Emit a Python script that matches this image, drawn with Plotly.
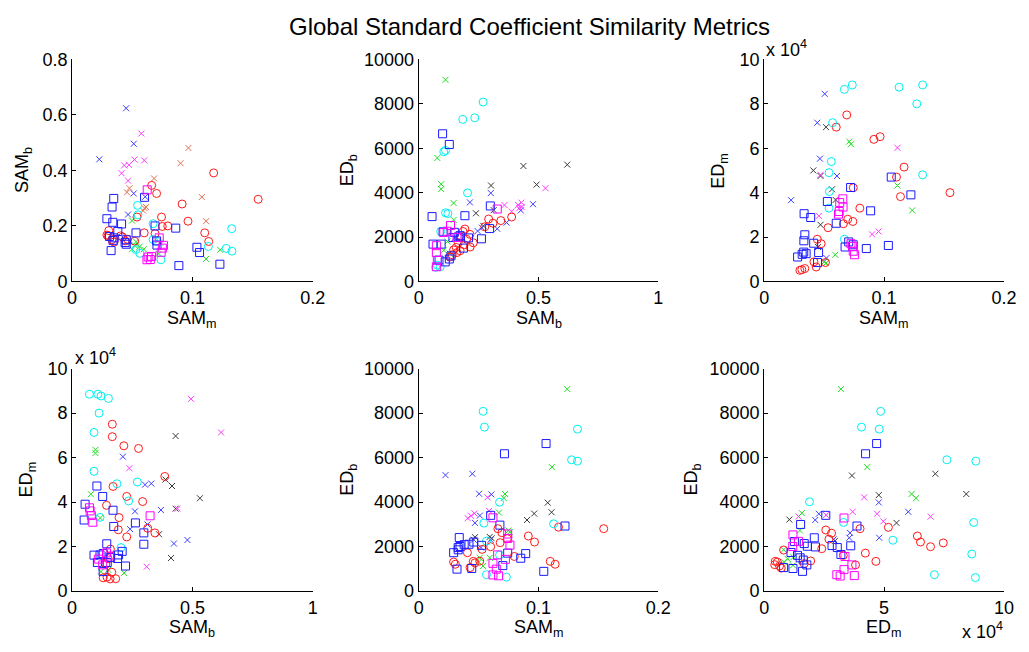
import plotly.graph_objects as go

# ---------------- data ----------------
# Panel 1 : SAM_m (x)  vs  SAM_b (y)
p1_red_circles = [(0.1176,0.391),(0.1546,0.296),(0.0661,0.346),(0.0702,0.317),(0.0914,0.279),(0.0743,0.232),(0.0539,0.232),(0.0963,0.217),(0.0749,0.198),(0.0795,0.200),(0.0599,0.175),(0.1102,0.175),(0.1135,0.144),(0.0305,0.183),(0.0289,0.167),(0.0403,0.164),(0.0419,0.160),(0.0349,0.142),(0.0441,0.146),(0.0300,0.165),(0.0689,0.172),(0.0460,0.152),(0.0520,0.145),(0.0330,0.150)]
p1_cyan_circles = [(0.0544,0.274),(0.0547,0.240),(0.0673,0.208),(0.1326,0.190),(0.128,0.119),(0.1328,0.109),(0.1132,0.126),(0.0563,0.101),(0.0738,0.078),(0.0673,0.151),(0.0700,0.145),(0.0530,0.115)]
p1_blue_squares = [(0.0346,0.299),(0.0332,0.268),(0.0289,0.226),(0.0338,0.213),(0.0411,0.207),(0.0602,0.303),(0.0861,0.192),(0.0689,0.200),(0.0531,0.175),(0.0324,0.111),(0.0349,0.157),(0.0340,0.148),(0.0450,0.134),(0.0450,0.150),(0.0702,0.146),(0.0705,0.131),(0.1037,0.123),(0.1059,0.104),(0.0887,0.057),(0.1228,0.062),(0.0380,0.180),(0.0310,0.162),(0.0440,0.140)]
p1_magenta_squares = [(0.0624,0.330),(0.0724,0.157),(0.0759,0.130),(0.0750,0.120),(0.0632,0.088),(0.0650,0.079),(0.0622,0.078),(0.0660,0.090),(0.0740,0.105)]
p1_green_x = [(0.0498,0.219),(0.0531,0.143),(0.052,0.130),(0.0498,0.116),(0.0596,0.116),(0.0718,0.099),(0.123,0.114),(0.1113,0.081),(0.073,0.140),(0.056,0.125)]
p1_dark_x = [(0.0966,0.481),(0.0901,0.426),(0.0681,0.371),(0.0477,0.336),(0.0456,0.321),(0.0602,0.264),(0.0615,0.268),(0.1078,0.304),(0.1113,0.217),(0.059,0.255)]
p1_blue_x = [(0.0449,0.624),(0.0512,0.496),(0.0226,0.440),(0.0512,0.317),(0.0465,0.241),(0.0607,0.305)]
p1_magenta_x = [(0.0575,0.533),(0.0433,0.418),(0.0473,0.420),(0.0518,0.439),(0.0599,0.436),(0.0411,0.390),(0.0465,0.363)]

# Panel 2 : SAM_b (x)  vs  ED_b (y)
p2_red_circles = [(0.388,2900),(0.343,2740),(0.292,2810),(0.310,2620),(0.276,2460),(0.193,2360),(0.214,2120),(0.228,1740),(0.176,2000),(0.157,1530),(0.146,1420),(0.173,1380),(0.160,1300),(0.140,1200),(0.190,1650),(0.200,1900),(0.130,1100),(0.165,1750),(0.215,1550),(0.185,2250)]
p2_cyan_circles = [(0.269,8080),(0.234,7370),(0.184,7300),(0.112,5900),(0.105,5840),(0.204,3990),(0.112,3090),(0.122,3060),(0.092,2250),(0.078,730),(0.071,640),(0.090,660)]
p2_blue_squares = [(0.100,6650),(0.128,6170),(0.056,2920),(0.193,2960),(0.299,3400),(0.060,1680),(0.094,1680),(0.102,2230),(0.149,2210),(0.143,1980),(0.173,2060),(0.208,1960),(0.262,1920),(0.187,1500),(0.135,1150),(0.128,1010),(0.111,880),(0.296,2380),(0.085,960),(0.165,2000)]
p2_magenta_squares = [(0.328,3260),(0.133,2520),(0.119,2260),(0.074,1610),(0.074,1300),(0.078,950),(0.074,660),(0.105,2200),(0.160,1980)]
p2_green_x = [(0.112,9080),(0.078,5560),(0.094,4380),(0.094,4160),(0.146,3530),(0.146,2770),(0.105,1400),(0.120,1800),(0.130,1250)]
p2_dark_x = [(0.437,5200),(0.620,5260),(0.492,4360),(0.302,4320),(0.239,3070),(0.313,3210),(0.270,2500)]
p2_blue_x = [(0.301,3980),(0.214,3560),(0.477,3480),(0.426,3200),(0.367,2650),(0.328,2370),(0.264,2420),(0.246,2270),(0.150,1950)]
p2_magenta_x = [(0.529,4200),(0.429,3550),(0.415,3440),(0.388,3150),(0.358,3440),(0.430,3350),(0.420,3300)]

# Panel 3 : SAM_m (x)  vs  ED_m (y)
p3_red_circles = [(0.0689,75000),(0.0601,69500),(0.0915,64000),(0.0967,65200),(0.1167,51500),(0.1104,47000),(0.1137,38200),(0.155,40000),(0.0743,42200),(0.0798,33000),(0.0697,28000),(0.0740,27000),(0.0661,26000),(0.0533,24200),(0.0443,19000),(0.0475,17000),(0.0415,8800),(0.0434,6500),(0.0511,8500),(0.0298,5000),(0.0339,5800),(0.0314,5300)]
p3_cyan_circles = [(0.0669,86500),(0.0735,88500),(0.1126,87500),(0.1322,88500),(0.1273,80000),(0.0571,71500),(0.0560,54000),(0.0541,49000),(0.1322,48000),(0.0544,40500),(0.0541,33000),(0.0669,19000)]
p3_blue_squares = [(0.106,47000),(0.1224,39000),(0.0721,42300),(0.0527,36000),(0.0888,31800),(0.0601,26200),(0.0333,30500),(0.0388,28800),(0.0339,21000),(0.0331,18300),(0.0413,17200),(0.0454,13000),(0.0330,13200),(0.0350,12500),(0.0317,12200),(0.0279,11000),(0.0445,8500),(0.0675,15500),(0.0705,17800),(0.0743,16500),(0.0852,14800),(0.1036,16200)]
p3_magenta_squares = [(0.0656,37200),(0.0658,33500),(0.0626,31500),(0.0620,30300),(0.0738,15800),(0.0724,17000),(0.0743,13600),(0.0754,12000),(0.0630,35500)]
p3_green_x = [(0.0710,63000),(0.0724,61800),(0.1112,43200),(0.1235,32000),(0.0593,12000),(0.0516,8300),(0.0500,8800)]
p3_dark_x = [(0.0516,69500),(0.0410,50000),(0.0470,47500),(0.0566,41500),(0.0596,36700),(0.0470,25500),(0.0450,15500)]
p3_blue_x = [(0.0505,84500),(0.0443,71500),(0.0224,36600),(0.0465,55300),(0.0607,47500),(0.0519,10500)]
p3_magenta_x = [(0.1112,60200),(0.0954,22500),(0.0900,21200),(0.0456,29500),(0.0470,48000)]

# Panel 4 : SAM_b (x)  vs  ED_m (y)
p4_red_circles = [(0.167,75000),(0.167,69400),(0.215,65300),(0.276,64100),(0.385,51500),(0.170,47000),(0.227,42500),(0.143,38500),(0.293,40200),(0.195,33000),(0.192,27500),(0.227,24300),(0.314,28200),(0.344,26100),(0.159,18800),(0.165,8400),(0.129,5900),(0.158,5400),(0.181,5500),(0.145,6200),(0.150,14500),(0.140,12000)]
p4_cyan_circles = [(0.072,88500),(0.107,88500),(0.120,87700),(0.151,86600),(0.112,80000),(0.091,71300),(0.091,53800),(0.186,48200),(0.271,49000),(0.235,40500),(0.116,33100),(0.203,19500)]
p4_blue_squares = [(0.103,47200),(0.127,42500),(0.054,39000),(0.050,31900),(0.170,36300),(0.173,29000),(0.263,30600),(0.298,26100),(0.298,21000),(0.144,21200),(0.091,16100),(0.116,16200),(0.129,16800),(0.193,16200),(0.208,17800),(0.189,14600),(0.105,12800),(0.146,12800),(0.222,11200),(0.129,8700),(0.160,15000)]
p4_magenta_squares = [(0.072,37400),(0.080,33900),(0.086,30900),(0.324,33800),(0.109,14300),(0.143,17100),(0.156,15700),(0.127,11700),(0.075,36000)]
p4_green_x = [(0.097,63500),(0.097,62000),(0.078,43500),(0.117,32800),(0.216,8100),(0.120,8700),(0.150,9500)]
p4_dark_x = [(0.430,69700),(0.415,47200),(0.531,41700),(0.388,50100),(0.361,25500),(0.411,14800),(0.430,37000)]
p4_blue_x = [(0.211,60400),(0.303,47800),(0.329,48300),(0.261,35800),(0.369,36400),(0.241,27800),(0.313,29900),(0.423,21300),(0.479,22900)]
p4_magenta_x = [(0.494,86400),(0.619,71300),(0.238,55200),(0.438,37000),(0.310,10900)]

# Panel 5 : SAM_m (x)  vs  ED_b (y)
p5_red_circles = [(0.1544,2800),(0.1167,2870),(0.0915,2470),(0.0967,2200),(0.0661,2800),(0.0694,2620),(0.0680,2170),(0.0601,1990),(0.0530,1870),(0.0407,1720),(0.0798,1550),(0.1098,1330),(0.1139,1200),(0.0292,1300),(0.0306,1200),(0.0429,1050),(0.0510,1340),(0.0456,1330),(0.0740,2350),(0.0470,1260)]
p5_cyan_circles = [(0.0538,8080),(0.0549,7370),(0.1325,7280),(0.1276,5900),(0.1325,5840),(0.0675,3990),(0.0544,3050),(0.1126,3020),(0.0566,2240),(0.0675,1620),(0.0566,730),(0.0732,620)]
p5_blue_squares = [(0.1063,6630),(0.0716,6170),(0.0601,3400),(0.0678,2960),(0.1221,2920),(0.0339,2400),(0.0292,1720),(0.0330,1950),(0.0345,2000),(0.0380,2080),(0.0420,2100),(0.0460,2200),(0.0330,1850),(0.0525,2050),(0.0743,1700),(0.0893,1680),(0.0852,1470),(0.0702,1140),(0.0443,1010),(0.0320,980),(0.1044,880)]
p5_magenta_squares = [(0.0620,3290),(0.0743,2560),(0.0743,2360),(0.0762,2060),(0.0659,1620),(0.0724,1420),(0.0620,1240),(0.0648,980),(0.0620,720),(0.0667,680)]
p5_green_x = [(0.124,9080),(0.1112,5570),(0.0721,4360),(0.0710,4180),(0.0670,3520),(0.0749,2720),(0.0593,1490),(0.0510,1490),(0.0538,1120),(0.0500,1300),(0.0760,2650)]
p5_dark_x = [(0.1077,3970),(0.1109,3540),(0.0964,3480),(0.0904,3190),(0.0593,2430),(0.0609,2370),(0.0470,2420)]
p5_blue_x = [(0.0224,5210),(0.0448,5270),(0.0505,4370),(0.0607,4340),(0.0511,3390),(0.0470,3060),(0.0460,2300),(0.0600,2300),(0.0520,1950)]
p5_magenta_x = [(0.0574,4210),(0.0410,3270),(0.0437,3380),(0.0465,3490),(0.0588,3600)]

# Panel 6 : ED_m (x)  vs  ED_b (y)
p6_red_circles = [(51800,2860),(40000,2800),(25700,2740),(28100,2600),(27000,2330),(63900,2470),(65200,2200),(69400,1990),(74700,2160),(24000,1900),(42200,1700),(46600,1330),(38100,1170),(19400,1350),(16700,1230),(8100,1840),(4600,1330),(4400,1180),(6400,1120),(7100,1030),(5500,1300),(33000,1600)]
p6_cyan_circles = [(48600,8080),(40600,7370),(48000,7280),(76200,5900),(88300,5840),(18900,4010),(33100,3080),(87400,3080),(53700,2280),(86600,1660),(71000,730),(88100,600)]
p6_blue_squares = [(46900,6630),(42300,6170),(25700,3400),(15200,2990),(38700,2920),(20900,2390),(36100,2030),(12600,2220),(16700,2130),(18000,2010),(21400,1980),(28300,2040),(30500,1950),(32000,1640),(11200,1730),(13900,1600),(15000,1490),(16300,1390),(17800,1170),(8100,1050),(12000,1010),(16000,880)]
p6_magenta_squares = [(12000,2520),(14300,2230),(11900,2000),(33300,3280),(33700,1550),(33300,960),(36600,1170),(30300,730),(31700,670),(37600,690)]
p6_green_x = [(32000,9080),(43000,5570),(61500,4360),(63300,4170),(15700,3500),(14900,2720),(8100,1850),(9800,1440),(12200,1520),(8200,1300),(12000,1150)]
p6_dark_x = [(10500,3210),(36600,5190),(71400,5270),(84300,4360),(47800,4310),(55200,3060),(29500,2250)]
p6_blue_x = [(22800,3470),(21300,3190),(47800,3980),(60100,3560),(35800,2610),(35500,2390),(48000,2390),(29000,2320)]
p6_magenta_x = [(14300,3350),(25800,3410),(36900,3560),(41700,4210),(47100,3470),(49700,3130),(69400,3340)]

# axis ticks
sam_m_ticks = [0, 0.1, 0.2]
sam_m_ticktext = ["0", "0.1", "0.2"]
sam_b_ticks = [0, 0.5, 1]
sam_b_ticktext = ["0", "0.5", "1"]
sam_b_yticks = [0, 0.2, 0.4, 0.6, 0.8]
sam_b_yticktext = ["0", "0.2", "0.4", "0.6", "0.8"]
ed_b_ticks = [0, 2000, 4000, 6000, 8000, 10000]
ed_m_ticks = [0, 2, 4, 6, 8, 10]      # in units of 1e4
ed_m_xticks = [0, 5, 10]
ED_M_SCALE = 1e4

# ---------------- styles ----------------
series_styles = [
    ("dark_x", "x-thin-open", "#3a3a3a", 6),
    ("blue_x", "x-thin-open", "#3c3cff", 6),
    ("magenta_x", "x-thin-open", "#ff3cff", 6),
    ("green_x", "x-thin-open", "#22dd22", 6),
    ("red_circles", "circle-open", "#ff1a1a", 8),
    ("cyan_circles", "circle-open", "#00f0f0", 8),
    ("blue_squares", "square-open", "#1a1aff", 8),
    ("magenta_squares", "square-open", "#ff00ff", 8),
]

panels = [
    dict(name="p1", xs=1.0, ys=1.0, override={"dark_x": "#e07050"}),
    dict(name="p2", xs=1.0, ys=1.0, override={}),
    dict(name="p3", xs=1.0, ys=ED_M_SCALE, override={}),
    dict(name="p4", xs=1.0, ys=ED_M_SCALE, override={}),
    dict(name="p5", xs=1.0, ys=1.0, override={}),
    dict(name="p6", xs=ED_M_SCALE, ys=1.0, override={}),
]

W, H = 1029, 652
def px(x): return x / W
def py(y): return 1 - y / H

col_dom = [(68.3, 313.3), (421.0, 665.0), (772.7, 1016.7)]
row_dom = [(51.0, 280.0), (370.0, 599.3)]

fig = go.Figure()
g = globals()
for i, p in enumerate(panels):
    axn = "" if i == 0 else str(i + 1)
    for key, sym, color, size in series_styles:
        pts = g[p["name"] + "_" + key]
        c = p["override"].get(key, color)
        fig.add_trace(go.Scatter(
            x=[a / p["xs"] for a, b in pts],
            y=[b / p["ys"] for a, b in pts],
            mode="markers",
            marker=dict(symbol=sym, size=size, color=c, line=dict(color=c, width=1)),
            xaxis="x" + axn, yaxis="y" + axn, showlegend=False, cliponaxis=False,
        ))

font = "Liberation Sans, Arial, Helvetica, sans-serif"
axis_common = dict(showline=True, linecolor="black", linewidth=1, ticks="inside",
                   ticklen=4, tickcolor="black", showgrid=False, zeroline=False,
                   tickfont=dict(family=font, size=18, color="black"), mirror=False,
                   fixedrange=True)

xcfg = [
    dict(range=[0, 0.2], tickvals=sam_m_ticks, ticktext=sam_m_ticktext),
    dict(range=[0, 1], tickvals=sam_b_ticks, ticktext=sam_b_ticktext),
    dict(range=[0, 0.2], tickvals=sam_m_ticks, ticktext=sam_m_ticktext),
    dict(range=[0, 1], tickvals=sam_b_ticks, ticktext=sam_b_ticktext),
    dict(range=[0, 0.2], tickvals=sam_m_ticks, ticktext=sam_m_ticktext),
    dict(range=[0, 10], tickvals=ed_m_xticks, ticktext=[str(v) for v in ed_m_xticks]),
]
ycfg = [
    dict(range=[0, 0.8], tickvals=sam_b_yticks, ticktext=sam_b_yticktext),
    dict(range=[0, 10000], tickvals=ed_b_ticks, ticktext=[str(v) for v in ed_b_ticks]),
    dict(range=[0, 10], tickvals=ed_m_ticks, ticktext=[str(v) for v in ed_m_ticks]),
    dict(range=[0, 10], tickvals=ed_m_ticks, ticktext=[str(v) for v in ed_m_ticks]),
    dict(range=[0, 10000], tickvals=ed_b_ticks, ticktext=[str(v) for v in ed_b_ticks]),
    dict(range=[0, 10000], tickvals=ed_b_ticks, ticktext=[str(v) for v in ed_b_ticks]),
]

layout = dict(width=W, height=H, margin=dict(l=0, r=0, t=0, b=0),
              paper_bgcolor="white", plot_bgcolor="white", showlegend=False)
for i in range(6):
    r, c = divmod(i, 3)
    axn = "" if i == 0 else str(i + 1)
    x0, x1 = col_dom[c]
    y0, y1 = row_dom[r]
    layout["xaxis" + axn] = dict(axis_common, domain=[px(x0), px(x1)],
                                 anchor="y" + axn, **xcfg[i])
    layout["yaxis" + axn] = dict(axis_common, domain=[py(y1), py(y0)],
                                 anchor="x" + axn, **ycfg[i])
fig.update_layout(**layout)

xlabels = ["SAM<sub>m</sub>", "SAM<sub>b</sub>", "SAM<sub>m</sub>",
           "SAM<sub>b</sub>", "SAM<sub>m</sub>", "ED<sub>m</sub>"]
ylabels = ["SAM<sub>b</sub>", "ED<sub>b</sub>", "ED<sub>m</sub>",
           "ED<sub>m</sub>", "ED<sub>b</sub>", "ED<sub>b</sub>"]
ylabel_x = [19, 350, 727, 23, 350, 700]
ann = []
for i in range(6):
    r, c = divmod(i, 3)
    x0, x1 = col_dom[c]
    y0, y1 = row_dom[r]
    ann.append(dict(text=xlabels[i], x=px((x0 + x1) / 2), y=py(y1 + 25),
                    xref="paper", yref="paper", xanchor="center", yanchor="top",
                    showarrow=False, font=dict(family=font, size=18, color="black")))
    ann.append(dict(text=ylabels[i], x=px(ylabel_x[i]), y=py((y0 + y1) / 2),
                    xref="paper", yref="paper", xanchor="center", yanchor="middle",
                    textangle=-90, showarrow=False,
                    font=dict(family=font, size=18, color="black")))

# exponent labels
for (ex, ey, xa) in [(773, 40, "left"), (69, 357, "left"), (1018, 640, "right")]:
    ann.append(dict(text="x 10<sup>4</sup>", x=px(ex), y=py(ey), xref="paper", yref="paper",
                    xanchor=xa, yanchor="middle", showarrow=False,
                    font=dict(family=font, size=18, color="black")))

ann.append(dict(text="Global Standard Coefficient Similarity Metrics", x=px(534), y=py(17),
                xref="paper", yref="paper", xanchor="center", yanchor="middle",
                showarrow=False, font=dict(family=font, size=24, color="black")))
fig.update_layout(annotations=ann)

fig.write_html("out.html")
